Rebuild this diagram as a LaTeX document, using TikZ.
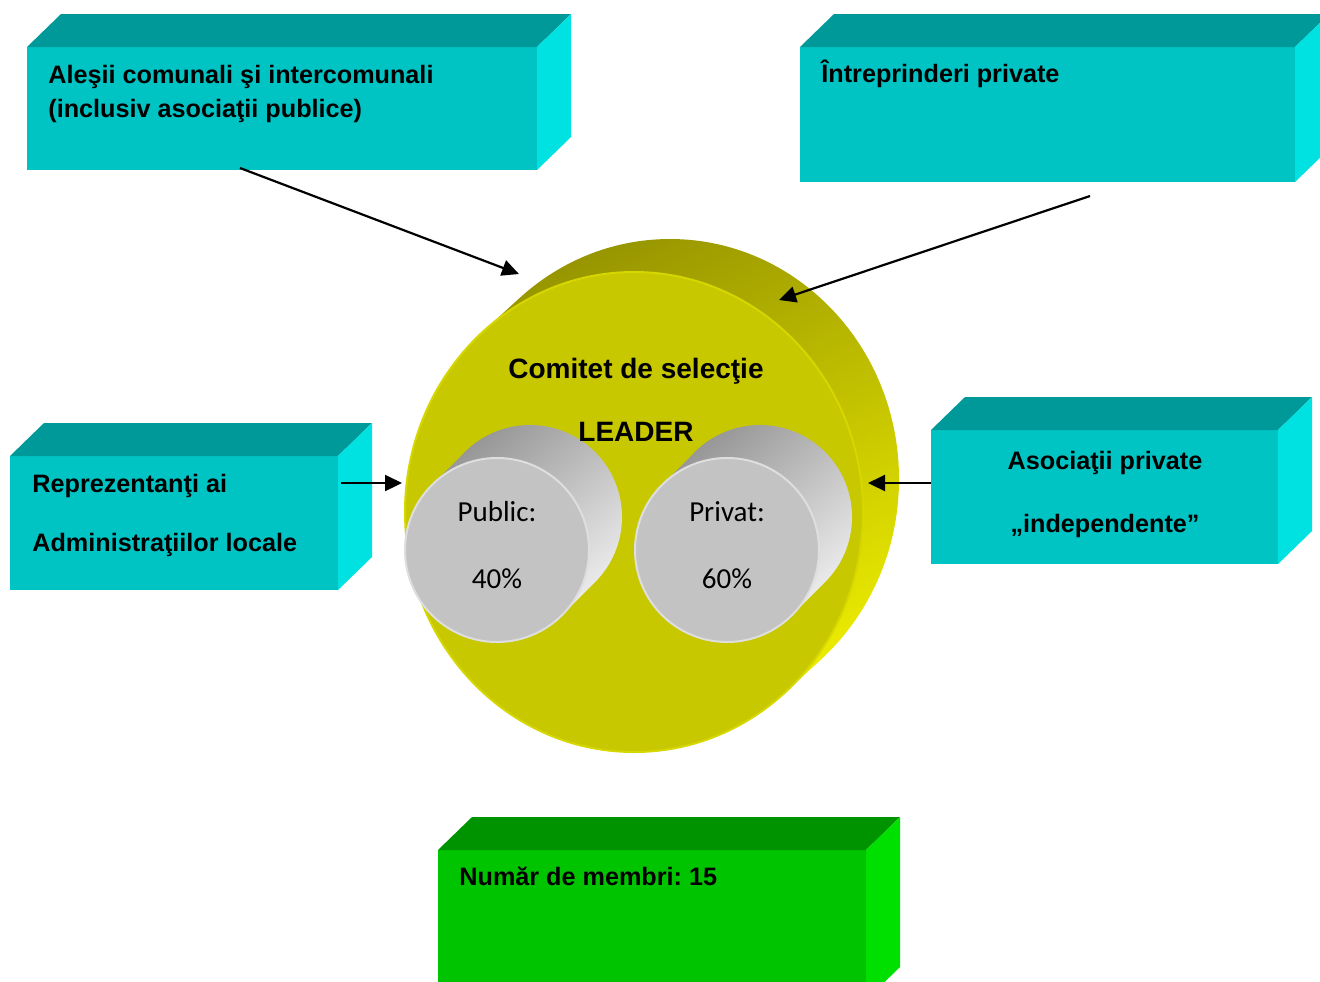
\documentclass[tikz,border=0pt]{standalone}
\usepackage{fontspec}
\setmainfont{Liberation Sans}
\newfontfamily\calibfont{Carlito}
\usetikzlibrary{arrows.meta,fit,calc}
\frenchspacing
\definecolor{cyF}{RGB}{0,196,196}
\definecolor{cyT}{RGB}{0,153,153}
\definecolor{cyS}{RGB}{0,225,225}
\definecolor{grF}{RGB}{0,196,0}
\definecolor{grT}{RGB}{0,147,0}
\definecolor{grS}{RGB}{0,224,0}
\definecolor{yeF}{RGB}{200,200,0}
\definecolor{yeR}{RGB}{214,214,0}
\definecolor{yeD}{RGB}{152,150,0}
\definecolor{yeB}{RGB}{236,236,0}
\definecolor{gyF}{RGB}{195,195,195}
\definecolor{gyR}{RGB}{222,222,222}
\definecolor{gyD}{RGB}{150,150,150}
\definecolor{gyB}{RGB}{235,235,235}
\newcommand\boxsides[3]{%
  \fill[#2] (#1.north west) -- ++(34,-33) -- ($(#1.north east)+(34,-33)$) -- (#1.north east) -- cycle;
  \fill[#3] (#1.north east) -- ++(34,-33) -- ($(#1.south east)+(34,-33)$) -- (#1.south east) -- cycle;}
\begin{document}
\begin{tikzpicture}[x=0.5pt,y=-0.5pt,
  face/.style={inner sep=0pt, outer sep=0pt, fill=#1},
  boxtext/.style={font=\fontsize{12.6pt}{15pt}\selectfont\bfseries, inner sep=0pt, anchor=base west},
  midtext/.style={font=\fontsize{14pt}{17pt}\selectfont\bfseries, inner sep=0pt, anchor=base},
  cyltext/.style={font=\calibfont\fontsize{14.5pt}{17pt}\selectfont, inner sep=0pt, anchor=base},
  conn/.style={line width=1.1pt, -{Triangle[length=8.5pt,width=8pt]}}]
\useasboundingbox (0,0) rectangle (1320,981);
\clip (0,0) rectangle (1320,981);
% ---------- boxes ----------
\coordinate (b1a) at (27,47);   \coordinate (b1b) at (537,170);
\coordinate (b2a) at (800,47);  \coordinate (b2b) at (1295,182);
\coordinate (b3a) at (10,456);  \coordinate (b3b) at (338,590);
\coordinate (b4a) at (931,430); \coordinate (b4b) at (1278,564);
\coordinate (b5a) at (438,850); \coordinate (b5b) at (866,1000);
\node[face=cyF, fit=(b1a)(b1b)] (b1) {};
\boxsides{b1}{cyT}{cyS}
\node[face=cyF, fit=(b2a)(b2b)] (b2) {};
\boxsides{b2}{cyT}{cyS}
\node[face=cyF, fit=(b3a)(b3b)] (b3) {};
\boxsides{b3}{cyT}{cyS}
\node[face=cyF, fit=(b4a)(b4b)] (b4) {};
\boxsides{b4}{cyT}{cyS}
\node[face=grF, fit=(b5a)(b5b)] (b5) {};
\boxsides{b5}{grT}{grS}
% ---------- box texts ----------
\node[boxtext] (t1a) at (48,83) {Aleşii comunali şi intercomunali};
\node[boxtext] (t1b) at (48,117) {(inclusiv asociaţii publice)};
\node[boxtext] (t2) at (821,82) {Întreprinderi private};
\node[boxtext] (t3a) at (32,492) {Reprezentanţi ai};
\node[boxtext] (t3b) at (32,551) {Administraţiilor locale};
\node[boxtext, anchor=base] (t4a) at (1105,469) {Asociaţii private};
\node[boxtext, anchor=base] (t4b) at (1105,532) {„independente”};
\node[boxtext] (t5) at (459,885) {Număr de membri: 15};
% ---------- yellow disc ----------
\shade[top color=yeD, bottom color=yeB, shading angle=25]
  (670,479) ellipse [x radius=229, y radius=240]
  (483,331.5) -- (519,298.5) -- (821,659.5) -- (785,692.5) -- cycle;
\fill[yeF, draw=yeR, line width=1pt] (634,512) ellipse [x radius=229, y radius=240];
\node[midtext] (m1) at (636,378) {Comitet de selecţie};
% ---------- gray cylinders ----------
\shade[top color=gyD, bottom color=gyB, shading angle=40]
  (530,517) circle [radius=92]
  (432,485) -- (465,452) -- (595,582) -- (562,615) -- cycle;
\shade[top color=gyD, bottom color=gyB, shading angle=40]
  (760,517) circle [radius=92]
  (662,485) -- (695,452) -- (825,582) -- (792,615) -- cycle;
\node[midtext] (m2) at (636,441) {LEADER};
\fill[gyF, draw=gyR, line width=1pt] (497,550) circle [radius=92];
\fill[gyF, draw=gyR, line width=1pt] (727,550) circle [radius=92];
\node[cyltext] (c1a) at (497,521) {Public:};
\node[cyltext] (c1b) at (497,588) {40\%};
\node[cyltext] (c2a) at (727,521) {Privat:};
\node[cyltext] (c2b) at (727,588) {60\%};
% ---------- connectors ----------
\coordinate (a1s) at ($(b1.south west)+(213,-2)$);
\coordinate (a1e) at (519,274);
\coordinate (a2s) at (1090,196);
\coordinate (a2e) at (779,300);
\coordinate (a3s) at ($(b3.east)+(3,-40)$);
\coordinate (a3e) at (402,483);
\coordinate (a4s) at (b4.west |- a3s);
\coordinate (a4e) at (868,483);
\draw[conn] (a1s) -- (a1e);
\draw[conn] (a2s) -- (a2e);
\draw[conn] (a3s) -- (a3e);
\draw[conn] (a4s) -- (a4e);
\end{tikzpicture}
\end{document}
